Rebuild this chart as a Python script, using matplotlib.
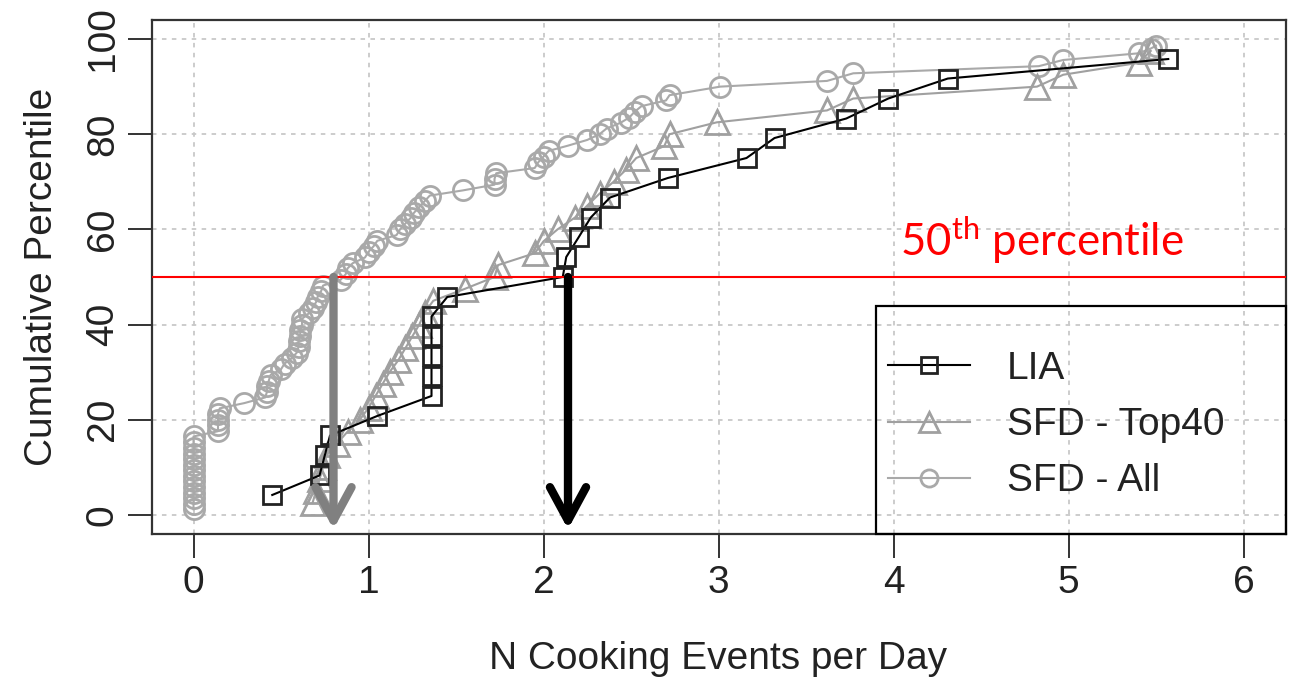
import numpy as np
import matplotlib.pyplot as plt
from matplotlib.patches import Rectangle

plt.rcParams['font.family'] = ['Liberation Sans', 'DejaVu Sans']
plt.rcParams['mathtext.fontset'] = 'custom'
plt.rcParams['mathtext.rm'] = 'Lato'

# LIA (cooking events per day, cumulative percentile)
lia_x = [0.45, 0.72, 0.75, 0.78, 1.05, 1.36, 1.36, 1.36, 1.36, 1.36, 1.45, 2.11,
         2.13, 2.20, 2.27, 2.38, 2.71, 3.16, 3.32, 3.73, 3.97, 4.31, 5.57]
lia_y = [4.2, 8.3, 12.5, 16.7, 20.8, 25.0, 29.2, 33.3, 37.5, 41.7, 45.8, 50.0,
         54.2, 58.3, 62.5, 66.7, 70.8, 75.0, 79.2, 83.3, 87.5, 91.7, 95.8]

# SFD - Top40
top_x = [0.68, 0.70, 0.72, 0.74, 0.76, 0.82, 0.88, 0.95, 1.00, 1.04, 1.08, 1.12, 1.17,
         1.21, 1.25, 1.29, 1.32, 1.37, 1.55, 1.72, 1.74, 1.95, 2.00, 2.08, 2.18, 2.25,
         2.32, 2.40, 2.47, 2.53, 2.69, 2.72, 2.99, 3.62, 3.77, 4.82, 4.97, 5.40, 5.47]
top_y = [2.5, 5.0, 7.5, 10.0, 12.5, 15.0, 17.5, 20.0, 22.5, 25.0, 27.5, 30.0, 32.5,
         35.0, 37.5, 40.0, 42.5, 45.0, 47.5, 50.0, 52.5, 55.0, 57.5, 60.0, 62.5, 65.0,
         67.5, 70.0, 72.5, 75.0, 77.5, 80.0, 82.5, 85.0, 87.5, 90.0, 92.5, 95.0, 97.5]

# SFD - All
all_x = [0, 0, 0, 0, 0, 0, 0, 0, 0, 0, 0, 0, 0, 0,
         0.14, 0.14, 0.14, 0.14, 0.15, 0.29, 0.41, 0.42, 0.42, 0.43, 0.44,
         0.50, 0.52, 0.56, 0.59, 0.60, 0.60, 0.61, 0.61, 0.62, 0.62,
         0.66, 0.68, 0.70, 0.71, 0.73, 0.74, 0.84, 0.87, 0.88, 0.91, 0.98, 1.00,
         1.03, 1.05, 1.16, 1.18, 1.21, 1.24, 1.26, 1.29, 1.32, 1.35, 1.54, 1.72,
         1.72, 1.73, 1.95, 1.97, 2.00, 2.03, 2.14, 2.25, 2.32, 2.36, 2.44, 2.49,
         2.52, 2.56, 2.70, 2.72, 3.01, 3.62, 3.77, 4.83, 4.97, 5.40, 5.47, 5.50]
all_y = [1.2, 2.4, 3.5, 4.7, 5.9, 7.1, 8.2, 9.4, 10.6, 11.8, 12.9, 14.1, 15.3, 16.5,
         17.6, 18.8, 20.0, 21.2, 22.4, 23.5, 24.7, 25.9, 27.1, 28.2, 29.4,
         30.6, 31.8, 32.9, 34.1, 35.3, 36.5, 37.6, 38.8, 40.0, 41.2,
         42.4, 43.5, 44.7, 45.9, 47.1, 48.2, 49.4, 50.6, 51.8, 52.9, 54.1, 55.3,
         56.5, 57.6, 58.8, 60.0, 61.2, 62.4, 63.5, 64.7, 65.9, 67.1, 68.2, 69.4,
         70.6, 71.8, 72.9, 74.1, 75.3, 76.5, 77.6, 78.8, 80.0, 81.2, 82.4, 83.5,
         84.7, 85.9, 87.1, 88.2, 90.0, 91.2, 92.8, 94.3, 95.6, 97.0, 98.0, 98.6]

median_lia = 2.14
median_all = 0.80

fig = plt.figure(figsize=(12.96, 6.78), dpi=100)
ax = fig.add_axes([0.1169, 0.2124, 0.875, 0.7581])

grey_all = '#a9a9a9'
grey_top = '#a0a0a0'

ax.plot(all_x, all_y, color=grey_all, lw=1.5, marker='o', ms=14.5, mfc='none',
        mec=grey_all, mew=2.0, label='SFD - All', zorder=3)
ax.plot(top_x, top_y, color=grey_top, lw=1.5, marker='^', ms=17, mfc='none',
        mec=grey_top, mew=2.0, label='SFD - Top40', zorder=4)
ax.plot(lia_x, lia_y, color='black', lw=1.5, marker='s', ms=13.5, mfc='none',
        mec='#222222', mew=2.0, label='LIA', zorder=5)

ax.axhline(50, color='red', lw=1.5, zorder=6)

for xm, col in [(median_all, '#808080'), (median_lia, 'black')]:
    ax.annotate('', xy=(xm, -3.0), xytext=(xm, 50),
                arrowprops=dict(arrowstyle='->,head_length=24,head_width=13',
                                mutation_scale=1, color=col, lw=6,
                                shrinkA=0, shrinkB=0),
                zorder=7)

# "50th percentile" label placed in figure pixels (from bottom-left)
ax.text(900, 678 - 256, r'50$^{\mathrm{th}}$ percentile', transform=None,
        color='red', fontsize=31.5, family='Lato')

ax.set_xlim(-0.24, 6.24)
ax.set_ylim(-4, 104)
ax.set_xticks(range(0, 7))
ax.set_yticks(range(0, 101, 20))
ax.grid(True, color='#c8c8c8', lw=1.3, linestyle=(0, (2.5, 3)))
ax.set_axisbelow(True)

for s in ax.spines.values():
    s.set_linewidth(1.6)
    s.set_color('#333333')

ax.tick_params(axis='both', length=17, width=1.4, color='#333333',
               labelsize=28, labelcolor='#222222', direction='out', pad=5)
for lab in ax.get_yticklabels():
    lab.set_rotation(90)
    lab.set_va('center')

ax.set_xlabel('N Cooking Events per Day', fontsize=28, color='#222222', labelpad=29)
ax.set_ylabel('Cumulative Percentile', fontsize=28, color='#222222', labelpad=18)

# legend box
x0 = (876 - 151.5) / 1134
ax.add_patch(Rectangle((x0, 0), 1 - x0, (534 - 306) / 514, transform=ax.transAxes,
                       facecolor='none', edgecolor='black', lw=1.6, zorder=8,
                       clip_on=False))
handles, labels = ax.get_legend_handles_labels()
order = [2, 1, 0]
leg = ax.legend([handles[i] for i in order], [labels[i] for i in order],
                loc='upper left', bbox_to_anchor=((888 - 151.5) / 1134, (534 - 351) / 514),
                frameon=False, fontsize=28, handlelength=2.1, handletextpad=0.95,
                labelspacing=0.52, borderpad=0, borderaxespad=0, markerscale=0.85)
for t in leg.get_texts():
    t.set_color('#222222')

fig.savefig('out.png', dpi=100)
